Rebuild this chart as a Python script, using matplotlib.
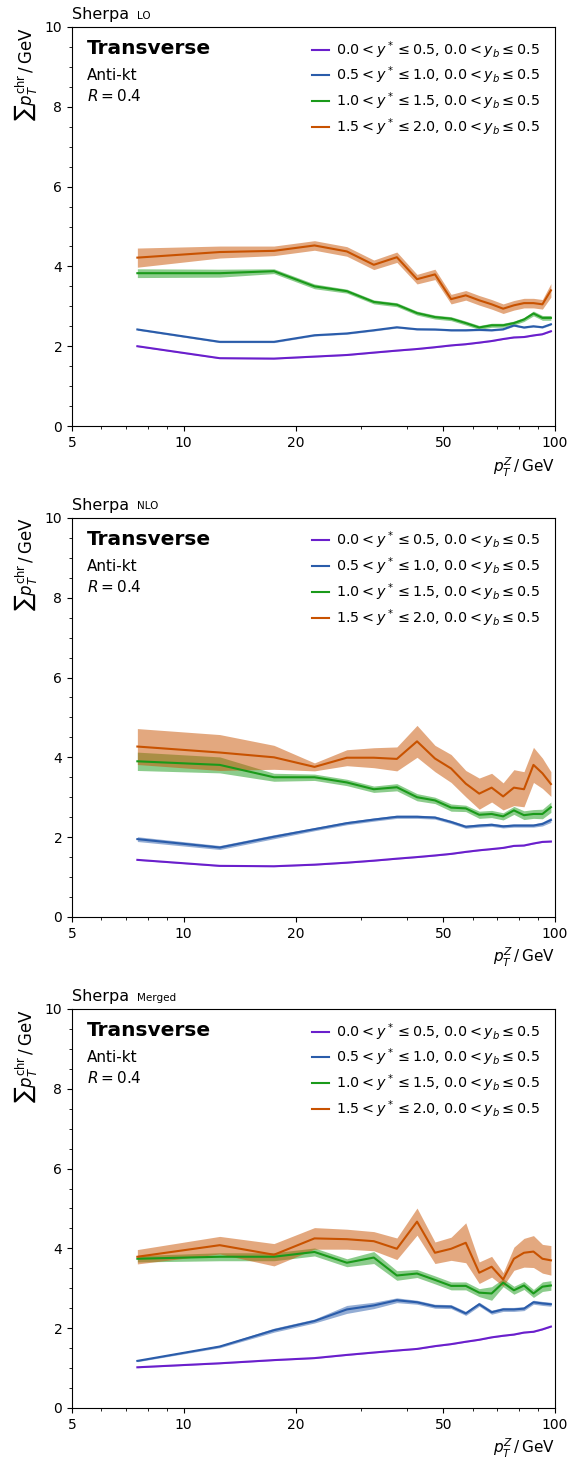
import numpy as np
import matplotlib
matplotlib.use('Agg')
import matplotlib.pyplot as plt
from matplotlib.ticker import FixedLocator, NullFormatter, MultipleLocator

# bin centres in pT^Z
pt = [7.5, 12.5, 17.5, 22.5, 27.5, 32.5, 37.5, 42.5, 47.5, 52.5,
      57.5, 62.5, 67.5, 72.5, 77.5, 82.5, 87.5, 92.5, 97.5]

labels = [r'$0.0 < y^* \leq 0.5$, $0.0 < y_b \leq 0.5$',
          r'$0.5 < y^* \leq 1.0$, $0.0 < y_b \leq 0.5$',
          r'$1.0 < y^* \leq 1.5$, $0.0 < y_b \leq 0.5$',
          r'$1.5 < y^* \leq 2.0$, $0.0 < y_b \leq 0.5$']
colors = ['#6a1fcc', '#2a5caa', '#1a9a1a', '#c85200']

# ---- Sherpa LO ----
lo_y0 = [2.00, 1.70, 1.69, 1.74, 1.78, 1.84, 1.89, 1.93, 1.975, 2.02,
         2.05, 2.09, 2.13, 2.18, 2.22, 2.23, 2.27, 2.30, 2.375]
lo_y1 = [2.42, 2.11, 2.11, 2.275, 2.32, 2.40, 2.475, 2.425, 2.42, 2.40,
         2.40, 2.41, 2.40, 2.425, 2.52, 2.47, 2.50, 2.475, 2.55]
lo_y2 = [3.83, 3.83, 3.88, 3.50, 3.38, 3.11, 3.04, 2.83, 2.73, 2.69,
         2.58, 2.47, 2.525, 2.525, 2.58, 2.67, 2.82, 2.71, 2.71]
lo_y3 = [4.22, 4.36, 4.39, 4.525, 4.375, 4.04, 4.23, 3.68, 3.80, 3.18,
         3.275, 3.15, 3.05, 2.94, 3.025, 3.08, 3.08, 3.05, 3.40]
lo_e0 = [0.01] * 19
lo_e1 = [0.02] * 19
lo_e2 = [0.11, 0.10, 0.06, 0.06, 0.05, 0.05, 0.05, 0.05, 0.05, 0.05,
         0.05, 0.05, 0.05, 0.05, 0.05, 0.05, 0.06, 0.06, 0.06]
lo_e3 = [0.24, 0.15, 0.12, 0.12, 0.12, 0.12, 0.13, 0.12, 0.13, 0.12,
         0.12, 0.12, 0.12, 0.12, 0.12, 0.12, 0.12, 0.12, 0.17]

# ---- Sherpa NLO ----
nlo_y0 = [1.43, 1.28, 1.27, 1.31, 1.36, 1.41, 1.46, 1.50, 1.54, 1.58,
          1.63, 1.67, 1.70, 1.73, 1.78, 1.79, 1.84, 1.88, 1.89]
nlo_y1 = [1.95, 1.74, 2.01, 2.20, 2.35, 2.44, 2.51, 2.51, 2.49, 2.38,
          2.26, 2.29, 2.31, 2.27, 2.29, 2.29, 2.29, 2.33, 2.43]
nlo_y2 = [3.90, 3.81, 3.50, 3.50, 3.37, 3.20, 3.25, 3.00, 2.92, 2.74,
          2.72, 2.56, 2.58, 2.52, 2.67, 2.55, 2.58, 2.58, 2.75]
nlo_y3 = [4.27, 4.12, 4.00, 3.76, 3.99, 3.99, 3.96, 4.40, 3.97, 3.72,
          3.34, 3.09, 3.24, 3.02, 3.24, 3.20, 3.81, 3.60, 3.33]
nlo_e0 = [0.01] * 19
nlo_e1 = [0.06, 0.05, 0.05, 0.04, 0.04, 0.04, 0.04, 0.04, 0.04, 0.04,
          0.04, 0.04, 0.04, 0.04, 0.04, 0.04, 0.04, 0.05, 0.06]
nlo_e2 = [0.23, 0.20, 0.10, 0.08, 0.08, 0.08, 0.09, 0.09, 0.08, 0.09,
          0.08, 0.09, 0.09, 0.09, 0.10, 0.11, 0.11, 0.12, 0.13]
nlo_e3 = [0.45, 0.45, 0.30, 0.10, 0.20, 0.25, 0.30, 0.40, 0.33, 0.35,
          0.33, 0.39, 0.36, 0.34, 0.45, 0.44, 0.44, 0.38, 0.31]

# ---- Sherpa Merged ----
mrg_y0 = [1.02, 1.12, 1.20, 1.25, 1.33, 1.39, 1.44, 1.48, 1.55, 1.60,
          1.66, 1.71, 1.77, 1.81, 1.84, 1.89, 1.91, 1.97, 2.04]
mrg_y1 = [1.18, 1.54, 1.95, 2.18, 2.47, 2.57, 2.70, 2.65, 2.55, 2.54,
          2.37, 2.60, 2.40, 2.47, 2.47, 2.49, 2.65, 2.62, 2.60]
mrg_y2 = [3.74, 3.79, 3.79, 3.91, 3.64, 3.77, 3.32, 3.37, 3.21, 3.06,
          3.06, 2.89, 2.87, 3.14, 2.95, 3.07, 2.87, 3.04, 3.07]
mrg_y3 = [3.79, 4.08, 3.84, 4.25, 4.23, 4.18, 3.99, 4.67, 3.89, 3.99,
          4.14, 3.39, 3.54, 3.22, 3.74, 3.89, 3.92, 3.74, 3.70]
mrg_e0 = [0.01] * 19
mrg_e1 = [0.02, 0.03, 0.05, 0.05, 0.10, 0.08, 0.06, 0.05, 0.05, 0.05,
          0.05, 0.05, 0.05, 0.05, 0.05, 0.05, 0.05, 0.05, 0.05]
mrg_e2 = [0.08, 0.10, 0.10, 0.10, 0.10, 0.15, 0.12, 0.10, 0.10, 0.10,
          0.10, 0.10, 0.17, 0.10, 0.10, 0.10, 0.10, 0.12, 0.12]
mrg_e3 = [0.18, 0.22, 0.28, 0.27, 0.25, 0.24, 0.27, 0.34, 0.27, 0.29,
          0.50, 0.27, 0.26, 0.17, 0.29, 0.36, 0.40, 0.36, 0.37]

panels = [
    ('LO', [lo_y0, lo_y1, lo_y2, lo_y3], [lo_e0, lo_e1, lo_e2, lo_e3]),
    ('NLO', [nlo_y0, nlo_y1, nlo_y2, nlo_y3], [nlo_e0, nlo_e1, nlo_e2, nlo_e3]),
    ('Merged', [mrg_y0, mrg_y1, mrg_y2, mrg_y3], [mrg_e0, mrg_e1, mrg_e2, mrg_e3]),
]

fig = plt.figure(figsize=(5.75, 14.58), dpi=100)
bottoms = [0.7078, 0.3711, 0.0343]

for (tag, ys, es), b in zip(panels, bottoms):
    ax = fig.add_axes([0.1252, b, 0.840, 0.2737])
    x = np.array(pt)
    # bands first, lines on top
    for y, e, c in zip(ys, es, colors):
        y = np.array(y)
        e = np.array(e)
        ax.fill_between(x, y - e, y + e, color=c, alpha=0.5, lw=0)
    for y, c, lab in zip(ys, colors, labels):
        ax.plot(x, y, color=c, lw=1.5, label=lab)

    ax.set_xscale('log')
    ax.set_xlim(5, 100)
    ax.set_ylim(0, 10)
    ax.xaxis.set_major_locator(FixedLocator([5, 10, 20, 50, 100]))
    ax.xaxis.set_major_formatter(matplotlib.ticker.FixedFormatter(['5', '10', '20', '50', '100']))
    ax.xaxis.set_minor_locator(FixedLocator([6, 7, 8, 9, 30, 40, 60, 70, 80, 90]))
    ax.xaxis.set_minor_formatter(NullFormatter())
    ax.yaxis.set_major_locator(MultipleLocator(2))
    ax.yaxis.set_minor_locator(MultipleLocator(0.5))
    ax.tick_params(labelsize=10)

    ax.set_xlabel(r'$p_T^Z\,/\,\mathrm{GeV}$', fontsize=11, loc='right')
    ax.set_ylabel(r'$\sum p_T^{\mathrm{chr}}\,/\,\mathrm{GeV}$', fontsize=12, loc='top')

    ax.text(0.0, 1.012, 'Sherpa', transform=ax.transAxes, fontsize=11.5, va='bottom')
    ax.text(0.135, 1.016, tag.upper() if tag != 'Merged' else tag,
            transform=ax.transAxes, fontsize=7.5, va='bottom')

    ax.text(0.031, 0.945, 'Transverse', transform=ax.transAxes,
            fontsize=14.5, fontweight='bold', va='center')
    ax.text(0.031, 0.878, 'Anti-kt', transform=ax.transAxes, fontsize=11, va='center')
    ax.text(0.031, 0.828, r'$R = 0.4$', transform=ax.transAxes, fontsize=11, va='center')

    ax.legend(loc='upper right', frameon=False, fontsize=10.3, handlelength=1.2,
              handletextpad=0.5, borderaxespad=0.3, labelspacing=0.3,
              bbox_to_anchor=(0.99, 0.995))

fig.savefig('out.png', dpi=100)
